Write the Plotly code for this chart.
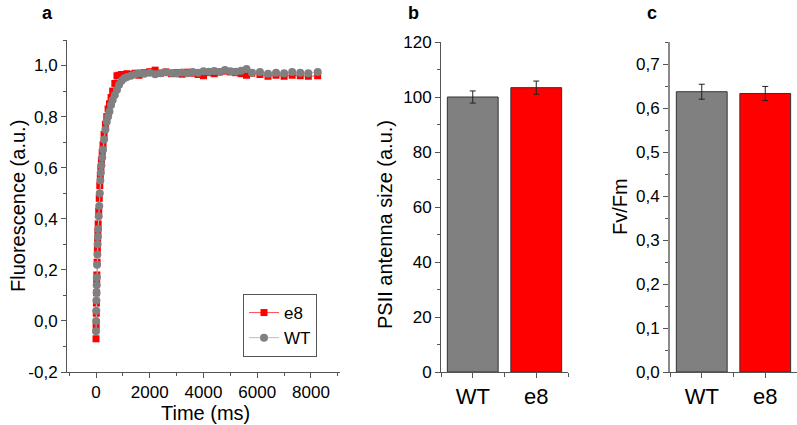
import plotly.graph_objects as go

# ---------------- data ----------------
time_ms = [0, 5, 10, 15, 20, 25, 30, 40, 50, 60, 70, 80, 100, 120, 140, 160, 180, 200,
           230, 260, 300, 350, 400, 450, 500, 560, 620, 700, 780, 860, 950, 1050, 1150,
           1300, 1450, 1600, 1800, 2000, 2200, 2400, 2600, 2800, 3000, 3200, 3400, 3600,
           3800, 4000, 4200, 4400, 4600, 4800, 5000, 5200, 5400, 5600, 5800, 6100, 6400,
           6700, 7000, 7300, 7600, 7900, 8250]

wt_fluor = [-0.04, 0.00, 0.04, 0.08, 0.11, 0.14, 0.17, 0.22, 0.26, 0.30, 0.33, 0.36, 0.41,
            0.45, 0.50, 0.55, 0.58, 0.61, 0.64, 0.67, 0.71, 0.75, 0.78, 0.80, 0.82, 0.845,
            0.865, 0.885, 0.905, 0.925, 0.94, 0.95, 0.955, 0.96, 0.965, 0.97, 0.968, 0.972,
            0.966, 0.970, 0.974, 0.971, 0.969, 0.973, 0.970, 0.975, 0.972, 0.978, 0.976,
            0.979, 0.975, 0.983, 0.978, 0.976, 0.980, 0.986, 0.972, 0.975, 0.968, 0.972,
            0.970, 0.975, 0.972, 0.970, 0.975]

e8_fluor = [-0.07, -0.02, 0.03, 0.07, 0.11, 0.15, 0.18, 0.23, 0.28, 0.32, 0.35, 0.38, 0.43,
            0.48, 0.53, 0.57, 0.60, 0.63, 0.66, 0.69, 0.73, 0.77, 0.80, 0.83, 0.85, 0.875,
            0.90, 0.93, 0.96, 0.962, 0.965, 0.962, 0.968, 0.965, 0.970, 0.962, 0.972, 0.976,
            0.982, 0.970, 0.975, 0.968, 0.972, 0.966, 0.974, 0.970, 0.965, 0.960, 0.972,
            0.968, 0.975, 0.978, 0.975, 0.972, 0.968, 0.962, 0.970, 0.965, 0.958, 0.962,
            0.958, 0.962, 0.960, 0.958, 0.960]

fluor_ticks = [-0.2, 0.0, 0.2, 0.4, 0.6, 0.8, 1.0]
fluor_ticktext = ["-0,2", "0,0", "0,2", "0,4", "0,6", "0,8", "1,0"]

genotypes = ["WT", "e8"]
antenna_size = [100.0, 103.4]
antenna_err = [2.2, 2.4]
fvfm = [0.637, 0.633]
fvfm_err = [0.017, 0.016]
bar_colors = ["#808080", "#ff0000"]

# ---------------- figure ----------------
W, H = 797, 425
FONT = "Arial, Liberation Sans, sans-serif"

def px(x):
    return x / W

def py(y):
    return (H - y) / H

fig = go.Figure()

fig.add_trace(go.Scatter(
    x=time_ms, y=e8_fluor, name="e8", mode="lines+markers",
    line=dict(color="#ff5050", width=1),
    marker=dict(symbol="square", size=7, color="#ff0000"),
    xaxis="x", yaxis="y"))
fig.add_trace(go.Scatter(
    x=time_ms, y=wt_fluor, name="WT", mode="lines+markers",
    line=dict(color="#bdbdbd", width=1),
    marker=dict(symbol="circle", size=8, color="#808080"),
    xaxis="x", yaxis="y"))

fig.add_trace(go.Bar(
    x=[0, 1], y=antenna_size, width=0.8,
    marker=dict(color=bar_colors, line=dict(color="#333333", width=1)),
    error_y=dict(type="data", array=antenna_err, color="#222222", thickness=1, width=3),
    showlegend=False, xaxis="x2", yaxis="y2"))

fig.add_trace(go.Bar(
    x=[0, 1], y=fvfm, width=0.8,
    marker=dict(color=bar_colors, line=dict(color="#333333", width=1)),
    error_y=dict(type="data", array=fvfm_err, color="#222222", thickness=1, width=3),
    showlegend=False, xaxis="x3", yaxis="y3"))

axis_common = dict(showline=True, linecolor="#555555", linewidth=1, ticks="outside",
                   ticklen=5, tickcolor="#555555", showgrid=False, zeroline=False,
                   automargin=False,
                   tickfont=dict(family=FONT, size=17, color="#000000"))
cat_font = dict(family=FONT, size=22, color="#000000")

y_dom = [py(372), py(40)]
y_dom_b = [py(372), py(42)]

fig.update_layout(
    template="none",
    width=W, height=H, margin=dict(l=0, r=0, t=0, b=0, pad=0),
    paper_bgcolor="white", plot_bgcolor="white",
    separators=",.",
    font=dict(family=FONT, color="#000000"),
    xaxis=dict(domain=[px(67), px(340)], range=[-1080, 9080], tick0=0, dtick=2000,
               minor=dict(dtick=1000, tick0=0, ticks="outside", ticklen=3, tickcolor="#555555"),
               anchor="y", **axis_common),
    yaxis=dict(domain=y_dom, range=[-0.2, 1.1], tickvals=fluor_ticks, ticktext=fluor_ticktext,
               minor=dict(dtick=0.1, tick0=-0.2, ticks="outside", ticklen=3, tickcolor="#555555"),
               anchor="x", **axis_common),
    xaxis2=dict(domain=[px(441), px(568)], range=[-0.5, 1.5], tickvals=[0, 1],
                ticktext=genotypes, anchor="y2",
                minor=dict(tickvals=[-0.5, 0.5, 1.5], ticks="outside", ticklen=4, tickcolor="#555555"),
                **{**axis_common, "tickfont": cat_font}),
    yaxis2=dict(domain=y_dom_b, range=[0, 120], tick0=0, dtick=20,
                minor=dict(dtick=10, tick0=0, ticks="outside", ticklen=3, tickcolor="#555555"),
                anchor="x2", **axis_common),
    xaxis3=dict(domain=[px(670), 1.0], range=[-0.5, 1.5], tickvals=[0, 1],
                ticktext=genotypes, anchor="y3",
                minor=dict(tickvals=[-0.5, 0.5, 1.5], ticks="outside", ticklen=4, tickcolor="#555555"),
                **{**axis_common, "tickfont": cat_font}),
    yaxis3=dict(domain=y_dom_b, range=[0, 0.75], tick0=0, dtick=0.1, tickformat=".1f",
                minor=dict(dtick=0.05, tick0=0, ticks="outside", ticklen=3, tickcolor="#555555"),
                anchor="x3", **{**axis_common, "linecolor": "#8a8a8a", "linewidth": 2}),
    showlegend=True,
    legend=dict(x=px(243), y=py(294), xanchor="left", yanchor="top",
                bgcolor="white", bordercolor="#555555", borderwidth=1,
                font=dict(family=FONT, size=17, color="#000000"),
                tracegroupgap=0, itemwidth=30),
)

annots = [
    dict(text="<b>a</b>", x=px(47), y=py(13), size=18, angle=0),
    dict(text="<b>b</b>", x=px(414), y=py(13), size=18, angle=0),
    dict(text="<b>c</b>", x=px(652), y=py(13), size=18, angle=0),
    dict(text="Fluorescence (a.u.)", x=px(18), y=py(206), size=20, angle=-90),
    dict(text="Time (ms)", x=px(205), y=py(413), size=20, angle=0),
    dict(text="PSII antenna size (a.u.)", x=px(385), y=py(225), size=20, angle=-90),
    dict(text="Fv/Fm", x=px(620), y=py(207), size=20, angle=-90),
]
for a in annots:
    fig.add_annotation(text=a["text"], x=a["x"], y=a["y"], xref="paper", yref="paper",
                       xanchor="center", yanchor="middle", showarrow=False,
                       textangle=a["angle"], font=dict(family=FONT, size=a["size"], color="#000000"))

fig.write_html("out.html",
               config={"displayModeBar": False},
               post_script="document.body.style.margin='0';document.body.style.padding='0';document.body.style.overflow='hidden';")
